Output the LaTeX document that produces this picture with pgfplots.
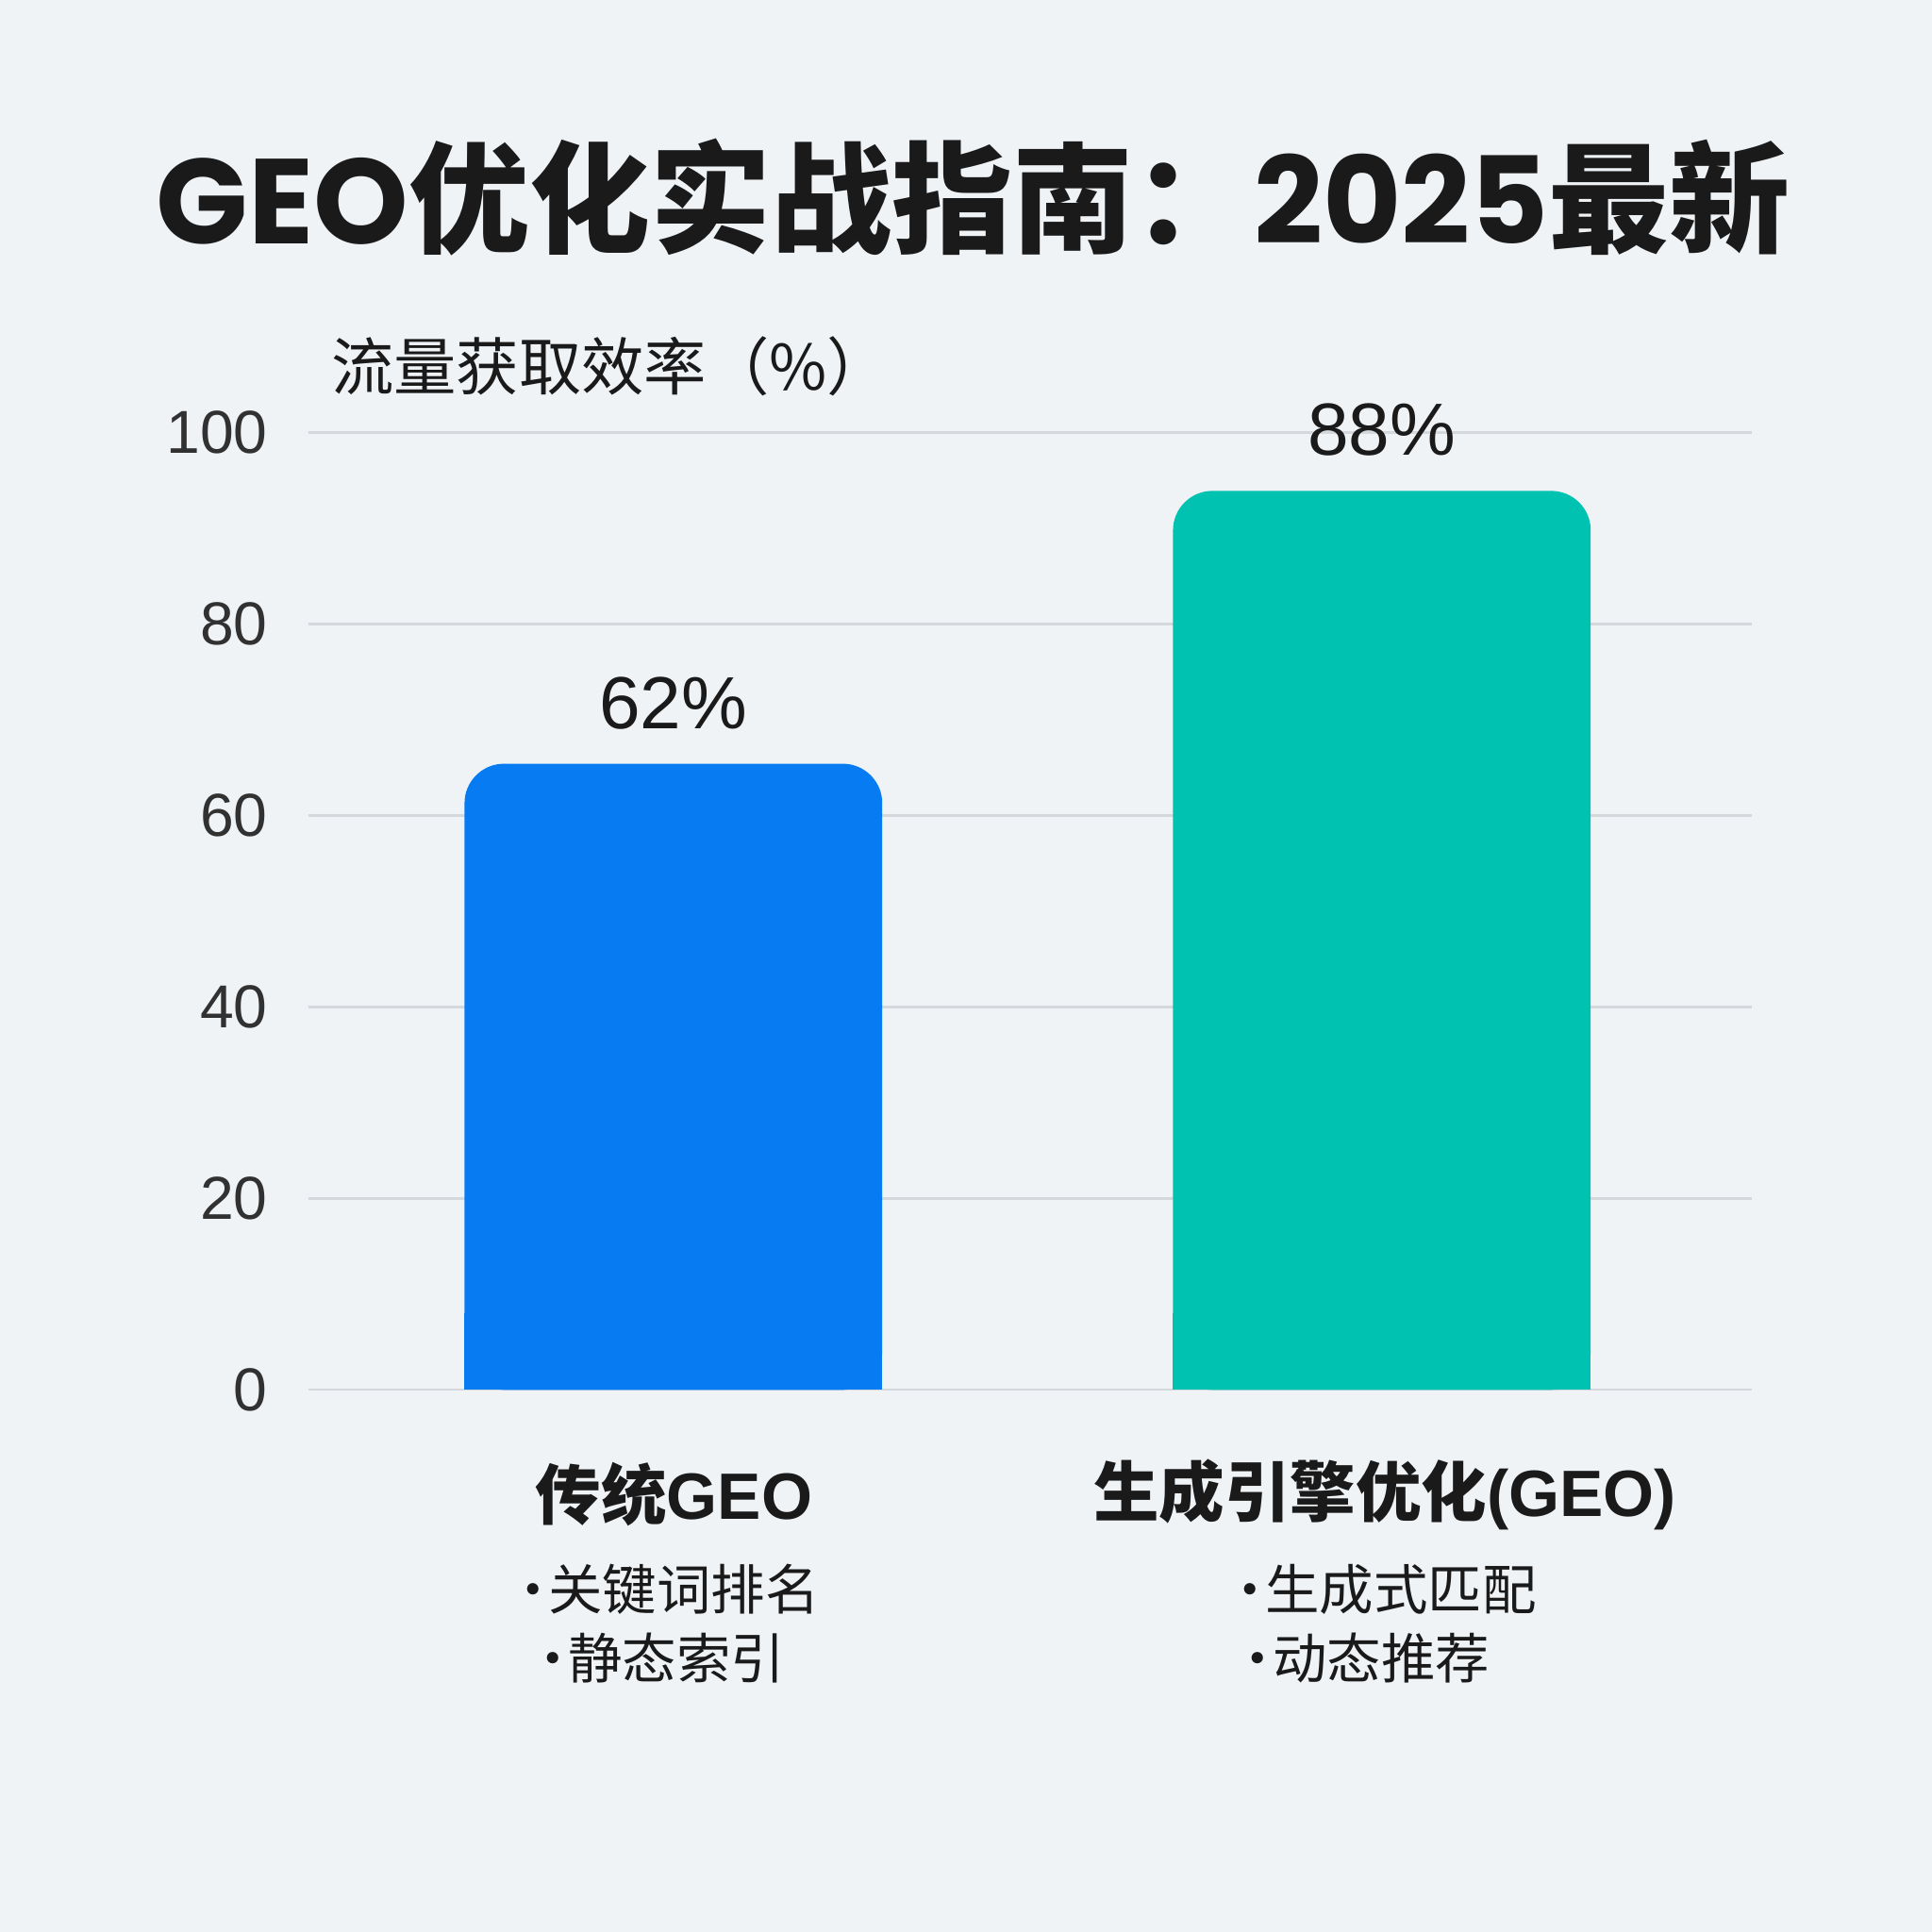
\documentclass[border=0pt]{standalone}
\usepackage{fontspec}
\usepackage{pgfplots}
\pgfplotsset{compat=1.18}
\setmainfont{Liberation Sans}
\newfontfamily\cjk{Noto Sans CJK SC}
\newfontfamily\pop{Poppins}
\definecolor{bg}{HTML}{F0F3F6}
\definecolor{geoblue}{HTML}{077CF2}
\definecolor{geoteal}{HTML}{00C2B1}
\definecolor{gridc}{HTML}{D4D8DC}
\definecolor{txt}{HTML}{1A1A1A}
\newcommand\fs[1]{\fontsize{#1}{1.2\dimexpr#1pt\relax}\selectfont}
\newcommand\bul{·\kern-2.5pt}
\pgfplotsset{valuelabel/.style={
    point meta=explicit,
    nodes near coords={\pgfmathprintnumber{\pgfplotspointmeta}\%},
    every node near coord/.style={font=\fs{15}, text=txt, anchor=south, yshift=3.5pt}}}
\begin{document}
\begin{tikzpicture}
\fill[bg] (0,0) rectangle (392pt,392pt);
\useasboundingbox (0,0) rectangle (392pt,392pt);
\begin{axis}[
    scale only axis,
    width=293pt, height=194.25pt,
    at={(62.5pt,110pt)}, anchor=south west,
    xmin=-0.5157, xmax=1.5226,
    ymin=0, ymax=100,
    ytick={0,20,40,60,80,100},
    xtick=\empty,
    axis line style={draw=none},
    major tick style={draw=none},
    ymajorgrids=true,
    grid style={gridc, line width=0.45pt},
    /pgf/number format/assume math mode=true,
    yticklabel style={font=\fs{12.3}, text=txt!90, anchor=east, inner sep=0pt, xshift=-8pt},
    ybar, bar width=84.75pt, bar shift=0pt,
    clip=false,
]
% square feet of the bars
\addplot[fill=geoblue, draw=none] coordinates {(0,8)};
\addplot[fill=geoteal, draw=none] coordinates {(1,8)};
% bars with rounded tops and value labels
\addplot[fill=geoblue, draw=none, rounded corners=8pt, valuelabel] coordinates {(0,65.4) [62]};
\addplot[fill=geoteal, draw=none, rounded corners=8pt, valuelabel] coordinates {(1,93.9) [88]};
\end{axis}
% title and labels
\node[text=txt, font=\fs{24.5}\bfseries] at (197.5pt,352pt) {\pop GEO\cjk 优化实战指南：\pop 2025\cjk 最新};
\node[anchor=west, text=txt, font=\fs{12.7}\cjk, inner sep=0pt] at (67pt,317.75pt) {流量获取效率（\%）};
\node[text=txt, font=\fs{13.3}\bfseries] at (136.75pt,88.75pt) {\cjk 传统\rmfamily GEO};
\node[text=txt, font=\fs{11}\cjk] at (134.5pt,69.5pt) {\bul 关键词排名};
\node[text=txt, font=\fs{11}\cjk] at (133pt,55.5pt) {\bul 静态索引};
\node[text=txt, font=\fs{13.3}\bfseries] at (281pt,88.75pt) {\cjk 生成引擎优化\rmfamily(GEO)};
\node[text=txt, font=\fs{11}\cjk] at (280pt,69.5pt) {\bul 生成式匹配};
\node[text=txt, font=\fs{11}\cjk] at (276pt,55.5pt) {\bul 动态推荐};
\end{tikzpicture}
\end{document}
